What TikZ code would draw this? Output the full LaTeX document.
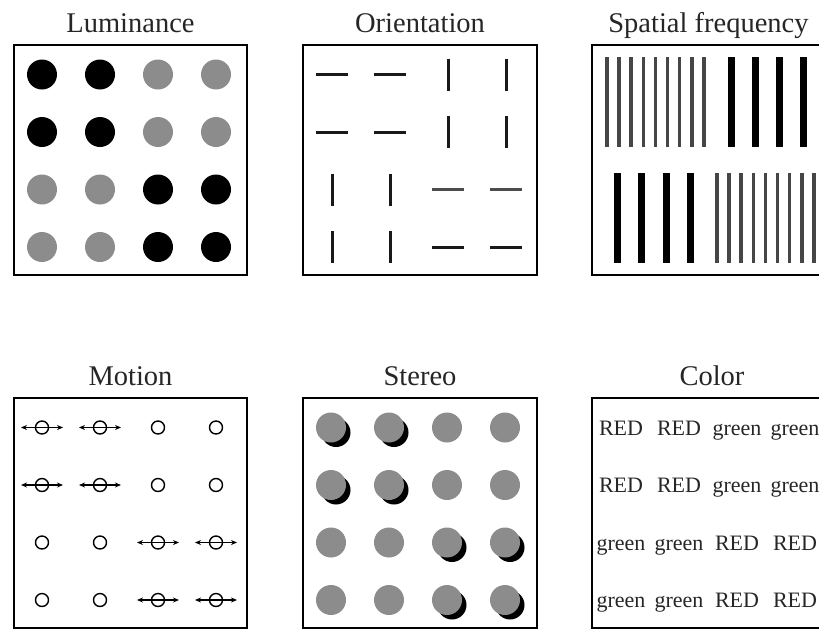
\documentclass[tikz,border=0pt]{standalone}
\usepackage{fontspec}
\setmainfont{Liberation Serif}
\usetikzlibrary{arrows.meta}
\definecolor{dotgray}{RGB}{140,140,140}
\definecolor{bargray}{RGB}{70,70,70}
\begin{document}
\begin{tikzpicture}[x=1pt,y=-1pt,
  panel/.style={draw=black,line width=2.4pt},
  ptitle/.style={anchor=base,font=\fontsize{28.5}{30}\selectfont,inner sep=0pt,text=black!85},
  ctext/.style={anchor=base,font=\fontsize{22}{24}\selectfont,inner sep=0pt,text=black!85},
  seg/.style={line width=3pt,black!90},
  segl/.style={line width=3pt,black!70},
  mcirc/.style={draw=black,line width=1.4pt},
  marrow/.style={{Stealth[length=6pt,width=5pt]}-{Stealth[length=6pt,width=5pt]},line width=1.4pt},
  thinbar/.style={fill=bargray},
  thickbar/.style={fill=black}]
\useasboundingbox (0,0) rectangle (819,630);
\clip (0,0) rectangle (819,630);

% ---------- Luminance ----------
\draw[panel] (14,45) rectangle (247,275);
\node[ptitle] (tlum) at (130.5,32) {Luminance};
\foreach \i/\j in {0/0,1/0,0/1,1/1,2/2,3/2,2/3,3/3}
  \fill[black] ({14+28+58*\i},{45+29.5+57.5*\j}) circle (15);
\foreach \i/\j in {2/0,3/0,2/1,3/1,0/2,1/2,0/3,1/3}
  \fill[dotgray] ({14+28+58*\i},{45+29.5+57.5*\j}) circle (15);

% ---------- Orientation ----------
\draw[panel] (303,45) rectangle (537,275);
\node[ptitle] (tori) at (420,32) {Orientation};
\foreach \i/\j in {0/0,1/0,0/1,1/1,2/3,3/3}
  \draw[seg] ({303+29+58*\i-16},{45+29.5+57.5*\j}) -- ++(32,0);
\foreach \i/\j in {2/2,3/2}
  \draw[segl] ({303+29+58*\i-16},{45+29.5+57.5*\j}) -- ++(32,0);
\foreach \i/\j in {2/0,3/0,2/1,3/1,0/2,1/2,0/3,1/3}
  \draw[seg] ({303+29+58*\i},{45+29.5+57.5*\j-16}) -- ++(0,32);

% ---------- Spatial frequency ----------
\draw[panel] (592,45) rectangle (825,275);
\node[ptitle] (tsf) at (708.5,32) {Spatial frequency};
\foreach \k in {0,...,8}
  \fill[thinbar] ({592+15+12.1*\k-1.8},57) rectangle ++(3.6,90);
\foreach \k in {0,...,3}
  \fill[thickbar] ({592+139+24*\k-3.5},57) rectangle ++(7,90);
\foreach \k in {0,...,3}
  \fill[thickbar] ({592+25+24.5*\k-3.5},173) rectangle ++(7,90);
\foreach \k in {0,...,8}
  \fill[thinbar] ({592+125+12.1*\k-1.8},173) rectangle ++(3.6,90);

% ---------- Motion ----------
\draw[panel] (14,398) rectangle (247,628);
\node[ptitle] (tmot) at (130.5,385) {Motion};
\foreach \i in {0,...,3}
  \foreach \j in {0,...,3}
    \draw[mcirc] ({14+28+58*\i},{398+29.5+57.5*\j}) circle (6.5);
\foreach \i/\j in {0/0,1/0,0/1,1/1,2/2,3/2,2/3,3/3}
  \draw[marrow] ({14+28+58*\i-21},{398+29.5+57.5*\j}) -- ++(42,0);

% ---------- Stereo ----------
\draw[panel] (303,398) rectangle (537,628);
\node[ptitle] (tste) at (420,385) {Stereo};
\foreach \i/\j in {0/0,1/0,0/1,1/1,2/2,3/2,2/3,3/3}
  \fill[black] ({303+28+58*\i+5},{398+29.5+57.5*\j+5}) circle (14.5);
\foreach \i in {0,...,3}
  \foreach \j in {0,...,3}
    \fill[dotgray] ({303+28+58*\i},{398+29.5+57.5*\j}) circle (15);

% ---------- Color ----------
\draw[panel] (592,398) rectangle (825,628);
\node[ptitle] (tcol) at (712,385) {Color};
\foreach \i/\j in {0/0,1/0,0/1,1/1,2/2,3/2,2/3,3/3}
  \node[ctext] (c-\i-\j) at ({592+29+58*\i},{398+37+57.5*\j}) {RED};
\foreach \i/\j in {2/0,3/0,2/1,3/1,0/2,1/2,0/3,1/3}
  \node[ctext] (c-\i-\j) at ({592+29+58*\i},{398+37+57.5*\j}) {green};
\end{tikzpicture}
\end{document}
